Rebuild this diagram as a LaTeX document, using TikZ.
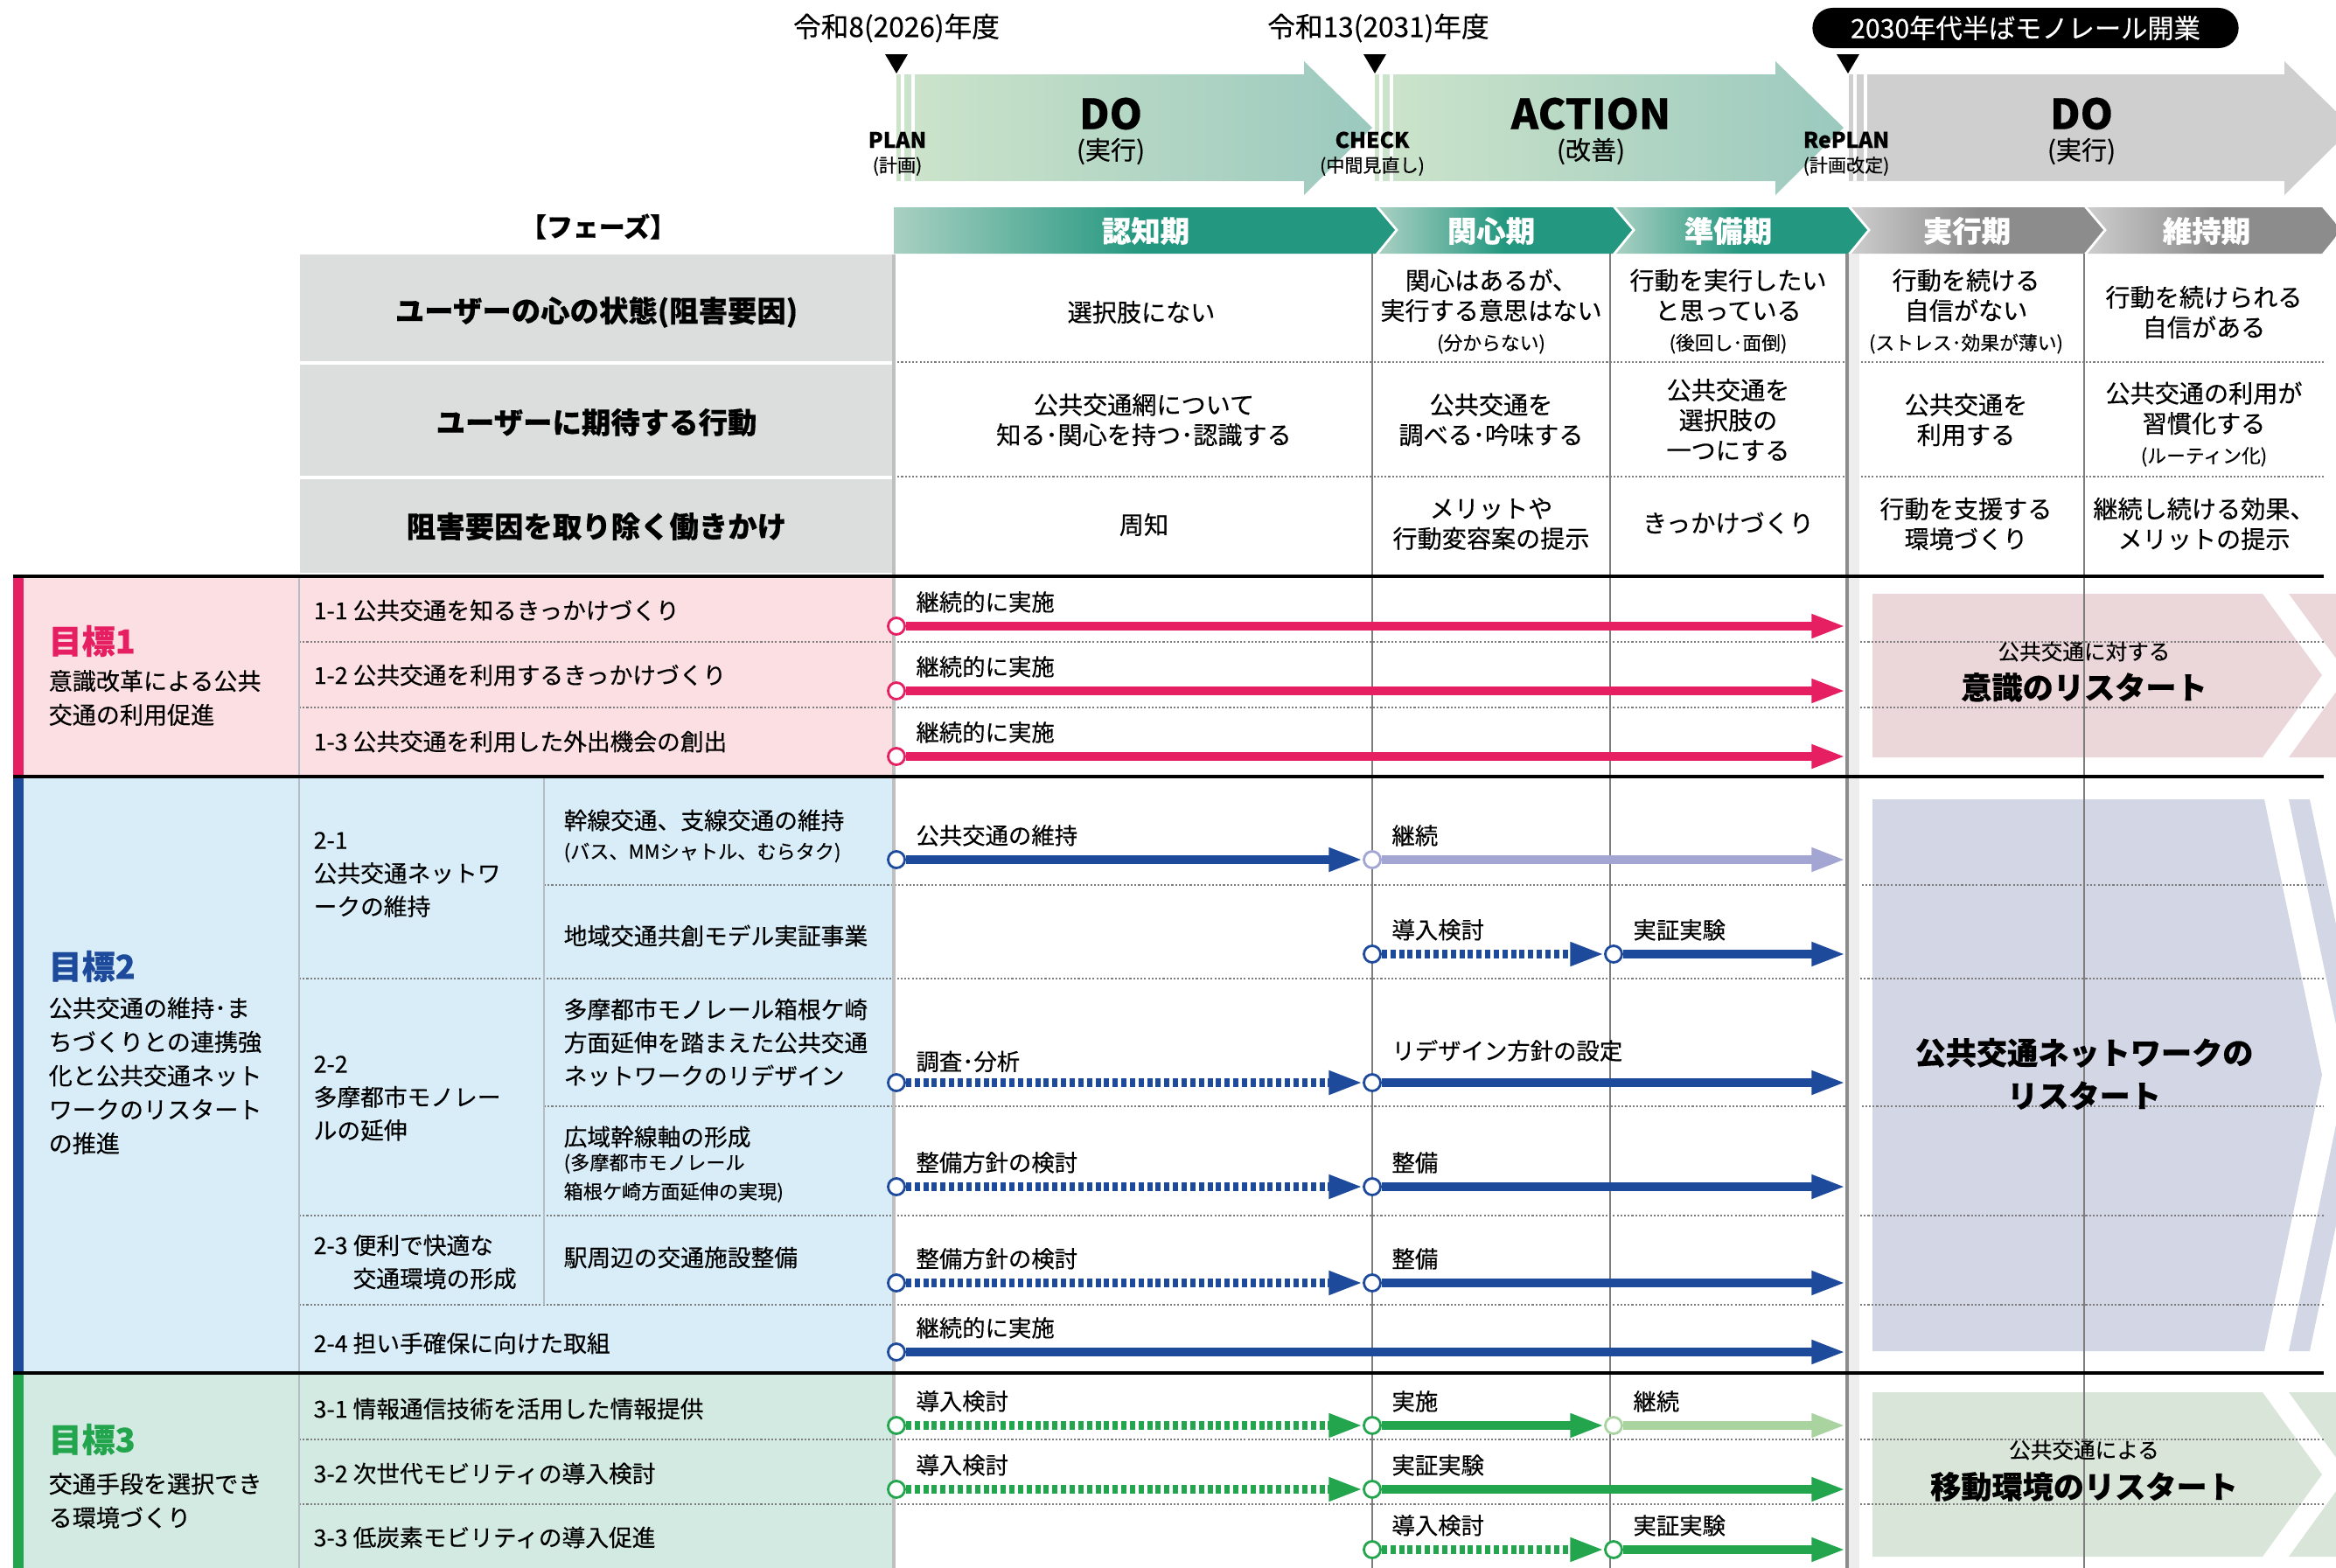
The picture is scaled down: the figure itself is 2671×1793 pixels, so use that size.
\documentclass[tikz,border=0pt]{standalone}
\usepackage{fontspec}
\setmainfont{Noto Sans CJK JP}[FakeBold=0.35]
\usetikzlibrary{arrows.meta, positioning, calc}

\definecolor{goalpink}{HTML}{E61E62}
\definecolor{goalblue}{HTML}{1E4A9C}
\definecolor{goalgreen}{HTML}{23A54E}
\definecolor{bgpink}{HTML}{FBDFE2}
\definecolor{bgblue}{HTML}{D8EDF8}
\definecolor{bggreen}{HTML}{D2EAE2}
\definecolor{boxpink}{HTML}{EBD7DA}
\definecolor{boxblue}{HTML}{D3D6E4}
\definecolor{boxgreen}{HTML}{D9E5D8}
\definecolor{lightpurple}{HTML}{A3A5D3}
\definecolor{lightgreen}{HTML}{A9D4A0}
\definecolor{hdrgray}{HTML}{DCDDDD}
\definecolor{phteal}{HTML}{23977F}
\definecolor{phlight}{HTML}{A9D0C2}
\definecolor{phdark}{HTML}{8C8C8C}
\definecolor{phpale}{HTML}{CDCDCD}
\definecolor{arrmint}{HTML}{CDE4CB}
\definecolor{arrteal}{HTML}{9BC9BE}
\definecolor{arrgray}{HTML}{CFCFCF}
\definecolor{linegray}{HTML}{7D7D7D}
\definecolor{collight}{HTML}{B4BCC4}

\tikzset{
    yearlbl/.style={font=\fontsize{9}{11}\selectfont, inner sep=0pt},
    pdcabig/.style={font=\fontsize{13.5}{14}\selectfont\bfseries, inner sep=0pt},
    pdcasub/.style={font=\fontsize{8.3}{10}\selectfont, inner sep=0pt},
    pdcamini/.style={font=\fontsize{7}{8}\selectfont\bfseries, inner sep=0pt},
    pdcaminisub/.style={font=\fontsize{6}{7}\selectfont, inner sep=0pt},
    phaselbl/.style={font=\fontsize{9.5}{11}\selectfont\bfseries, text=white, inner sep=0pt},
    hdrtxt/.style={font=\fontsize{9.5}{11}\selectfont\bfseries, inner sep=0pt},
    celltxt/.style={font=\fontsize{8}{9.8}\selectfont, align=center, inner sep=0pt},
    goaltitle/.style={font=\fontsize{10.8}{12}\selectfont\bfseries, anchor=west, inner sep=0pt},
    goaldesc/.style={font=\fontsize{7.7}{11}\selectfont, align=left, anchor=west, inner sep=0pt},
    itemtxt/.style={font=\fontsize{7.6}{10.8}\selectfont, align=left, anchor=west, inner sep=0pt},
    itemnote/.style={font=\fontsize{6.3}{9.4}\selectfont, align=left, anchor=west, inner sep=0pt},
    armlbl/.style={font=\fontsize{7.5}{9}\selectfont, inner sep=0pt},
    startpt/.style={circle, fill=white, line width=0.8pt, minimum size=5.4pt, inner sep=0pt},
    track/.style={line width=2.6pt, -{Triangle[length=11pt,width=7.2pt]}},
    dottrack/.style={track, dash pattern=on 1.7pt off 1.1pt},
    sepline/.style={linegray, line width=0.6pt, dash pattern=on 0.6pt off 0.6pt},
    colline/.style={linegray, line width=0.6pt},
    goalline/.style={black, line width=1.3pt},
    boxsmall/.style={font=\fontsize{7}{8}\selectfont, inner sep=0pt},
    boxbig/.style={font=\fontsize{10}{14}\selectfont\bfseries, align=center, inner sep=0pt},
}
\newcommand{\notesz}{\fontsize{6.2}{9.8}\selectfont}

\begin{document}
\begin{tikzpicture}[x=0.01cm, y=-0.01cm]
\useasboundingbox (0,0) rectangle (2671,1793);

% PDCA arrows
\shade[left color=arrmint, right color=arrteal] (1025,85) -- (1491,85) -- (1491,70) -- (1569,146) -- (1491,223) -- (1491,207) -- (1025,207) -- cycle;
\shade[left color=arrmint, right color=arrteal] (1572,85) -- (2030,85) -- (2030,70) -- (2108,146) -- (2030,223) -- (2030,207) -- (1572,207) -- cycle;
\fill[arrgray] (2114,85) -- (2612,85) -- (2612,70) -- (2690,146) -- (2612,223) -- (2612,207) -- (2114,207) -- cycle;
\foreach \x in {1025,1572,2114} {
  \draw[white, line width=1.1pt] (\x+7,85) -- (\x+7,207);
  \draw[white, line width=1.1pt] (\x+19,85) -- (\x+19,207);
}

% Timeline marks
\node[yearlbl] (y26) at (1025,32) {令和8(2026)年度};
\node[yearlbl] (y31) at (1576,32) {令和13(2031)年度};
\node[fill=black, text=white, rounded corners=2.3mm, minimum width=4.87cm, minimum height=0.46cm, inner sep=0pt, font=\fontsize{8.6}{10}\selectfont] (open) at (2316,32) {2030年代半ばモノレール開業};
\fill (1012,62) -- (1038,62) -- (1025,84) -- cycle;
\fill (1559,62) -- (1585,62) -- (1572,84) -- cycle;
\fill (2100,62) -- (2126,62) -- (2113,84) -- cycle;

% PDCA labels
\node[pdcamini] (plan) at (1026,160) {PLAN};
\node[pdcaminisub] (plansub) at (1026,190) {(計画)};
\node[pdcabig] (do1) at (1270,130) {DO};
\node[pdcasub] (do1sub) at (1270,173) {(実行)};
\node[pdcamini] (check) at (1569,160) {CHECK};
\node[pdcaminisub] (checksub) at (1569,190) {(中間見直し)};
\node[pdcabig] (act) at (1819,130) {ACTION};
\node[pdcasub] (actsub) at (1819,173) {(改善)};
\node[pdcamini] (replan) at (2111,160) {RePLAN};
\node[pdcaminisub] (replansub) at (2111,190) {(計画改定)};
\node[pdcabig] (do2) at (2380,130) {DO};
\node[pdcasub] (do2sub) at (2380,173) {(実行)};

% Phase bar
\node[font=\fontsize{8.5}{10}\selectfont\bfseries, inner sep=0pt] (phase) at (684,259) {【フェーズ】};
\shade[left color=phlight, right color=phteal, middle color=phteal] (1022,237) -- (1573,237) -- (1595,263) -- (1573,290) -- (1022,290) -- cycle;
\shade[left color=phlight, right color=phteal, middle color=phteal] (1577,237) -- (1844,237) -- (1866,263) -- (1844,290) -- (1577,290) -- (1599,263) -- cycle;
\shade[left color=phlight, right color=phteal, middle color=phteal] (1848,237) -- (2113,237) -- (2135,263) -- (2113,290) -- (1848,290) -- (1870,263) -- cycle;
\shade[left color=phpale, right color=phdark, middle color=phdark] (2117,237) -- (2383,237) -- (2405,263) -- (2383,290) -- (2117,290) -- (2139,263) -- cycle;
\shade[left color=phpale, right color=phdark, middle color=phdark] (2387,237) -- (2655,237) -- (2677,263) -- (2655,290) -- (2387,290) -- (2409,263) -- cycle;
\node[phaselbl] (ph1) at (1310,264) {認知期};
\node[phaselbl] (ph2) at (1705,264) {関心期};
\node[phaselbl] (ph3) at (1976,264) {準備期};
\node[phaselbl] (ph4) at (2249,264) {実行期};
\node[phaselbl] (ph5) at (2523,264) {維持期};

% Header rows
\fill[hdrgray] (343,291) rectangle (1022,413);
\fill[hdrgray] (343,417) rectangle (1022,544);
\fill[hdrgray] (343,548) rectangle (1022,655);
\node[hdrtxt] (h1) at (682,357) {ユーザーの心の状態(阻害要因)};
\node[hdrtxt] (h2) at (682,483) {ユーザーに期待する行動};
\node[hdrtxt] (h3) at (682,602) {阻害要因を取り除く働きかけ};

% Goal backgrounds
\fill[bgpink] (15,659) rectangle (1022,888);
\fill[bgblue] (15,888) rectangle (1022,1570);
\fill[bggreen] (15,1570) rectangle (1022,1793);
\fill[goalpink] (15,659) rectangle (27,888);
\fill[goalblue] (15,888) rectangle (27,1570);
\fill[goalgreen] (15,1570) rectangle (27,1793);

% Restart boxes
\fill[boxpink] (2141,679) -- (2587,679) -- (2655,772) -- (2587,866) -- (2141,866) -- cycle;
\fill[boxpink] (2617,679) -- (2672,679) -- (2740,772) -- (2672,866) -- (2617,866) -- (2685,772) -- cycle;
\fill[boxblue] (2141,914) -- (2589,914) -- (2655,1229) -- (2589,1545) -- (2141,1545) -- cycle;
\fill[boxblue] (2617,914) -- (2641,914) -- (2707,1229) -- (2641,1545) -- (2617,1545) -- (2683,1229) -- cycle;
\fill[boxgreen] (2141,1592) -- (2587,1592) -- (2655,1686) -- (2587,1780) -- (2141,1780) -- cycle;
\fill[boxgreen] (2617,1592) -- (2672,1592) -- (2740,1686) -- (2672,1780) -- (2617,1780) -- (2685,1686) -- cycle;

% Separators
\draw[sepline] (1022,414) -- (2657,414);
\draw[sepline] (1022,545) -- (2657,545);
\draw[sepline] (342,734) -- (2657,734);
\draw[sepline] (342,809) -- (2657,809);
\draw[sepline] (622,1012) -- (2657,1012);
\draw[sepline] (342,1119) -- (2657,1119);
\draw[sepline] (622,1265) -- (2657,1265);
\draw[sepline] (342,1390) -- (2657,1390);
\draw[sepline] (342,1492) -- (2657,1492);
\draw[sepline] (342,1646) -- (2657,1646);
\draw[sepline] (342,1720) -- (2657,1720);
\draw[collight, line width=0.5pt] (342,659) -- (342,1793);
\draw[collight, line width=0.5pt] (622,888) -- (622,1492);
\draw[black!25, line width=1.2pt] (1022,291) -- (1022,1793);
\fill[black!7] (2112,290) rectangle (2126,1793);
\draw[colline] (1569,290) -- (1569,1793);
\draw[colline] (1841,290) -- (1841,1793);
\draw[colline, line width=1pt, black!45] (2112,290) -- (2112,1793);
\draw[colline] (2383,290) -- (2383,1793);
\draw[goalline] (15,659) -- (2657,659);
\draw[goalline] (15,888) -- (2657,888);
\draw[goalline] (15,1570) -- (2657,1570);

% Header cells
\node[celltxt] (c11) at (1305,357) {選択肢にない};
\node[celltxt] (c12) at (1705,356) {関心はあるが、\\実行する意思はない\\{\notesz (分からない)}};
\node[celltxt] (c13) at (1976,356) {行動を実行したい\\と思っている\\{\notesz (後回し･面倒)}};
\node[celltxt] (c14) at (2248,356) {行動を続ける\\自信がない\\{\notesz (ストレス･効果が薄い)}};
\node[celltxt] (c15) at (2520,357) {行動を続けられる\\自信がある};
\node[celltxt] (c21) at (1308,480) {公共交通網について\\知る･関心を持つ･認識する};
\node[celltxt] (c22) at (1705,480) {公共交通を\\調べる･吟味する};
\node[celltxt] (c23) at (1976,480) {公共交通を\\選択肢の\\一つにする};
\node[celltxt] (c24) at (2248,480) {公共交通を\\利用する};
\node[celltxt] (c25) at (2520,485) {公共交通の利用が\\習慣化する\\{\notesz (ルーティン化)}};
\node[celltxt] (c31) at (1308,600) {周知};
\node[celltxt] (c32) at (1705,599) {メリットや\\行動変容案の提示};
\node[celltxt] (c33) at (1976,598) {きっかけづくり};
\node[celltxt] (c34) at (2248,599) {行動を支援する\\環境づくり};
\node[celltxt] (c35) at (2520,599) {継続し続ける効果、\\メリットの提示};

% Goals
\node[goaltitle, text=goalpink] (g1) at (55,733) {目標1};
\node[goaldesc] (g1d) at (55,798) {意識改革による公共\\交通の利用促進};
\node[goaltitle, text=goalblue] (g2) at (55,1105) {目標2};
\node[goaldesc] (g2d) at (55,1230) {公共交通の維持･ま\\ちづくりとの連携強\\化と公共交通ネット\\ワークのリスタート\\の推進};
\node[goaltitle, text=goalgreen] (g3) at (55,1646) {目標3};
\node[goaldesc] (g3d) at (55,1716) {交通手段を選択でき\\る環境づくり};

% Items
\node[itemtxt] (i11) at (358,698) {1-1 公共交通を知るきっかけづくり};
\node[itemtxt] (i12) at (358,772) {1-2 公共交通を利用するきっかけづくり};
\node[itemtxt] (i13) at (358,848) {1-3 公共交通を利用した外出機会の創出};
\node[itemtxt] (i21) at (358,1000) {2-1\\公共交通ネットワ\\ークの維持};
\node[itemtxt] (i22) at (358,1256) {2-2\\多摩都市モノレー\\ルの延伸};
\node[itemtxt] (i23) at (358,1443) {2-3 便利で快適な\\\phantom{2-3 }交通環境の形成};
\node[itemtxt] (i24) at (358,1536) {2-4 担い手確保に向けた取組};
\node[itemtxt] (i21a) at (644,938) {幹線交通、支線交通の維持};
\node[itemnote] (i21an) at (644,975) {(バス、MMシャトル、むらタク)};
\node[itemtxt] (i21b) at (644,1070) {地域交通共創モデル実証事業};
\node[itemtxt] (i22a) at (644,1192) {多摩都市モノレール箱根ケ崎\\方面延伸を踏まえた公共交通\\ネットワークのリデザイン};
\node[itemtxt] (i22b) at (644,1300) {広域幹線軸の形成};
\node[itemnote] (i22bn) at (644,1347) {(多摩都市モノレール\\箱根ケ崎方面延伸の実現)};
\node[itemtxt] (i23a) at (644,1438) {駅周辺の交通施設整備};
\node[itemtxt] (i31) at (358,1611) {3-1 情報通信技術を活用した情報提供};
\node[itemtxt] (i32) at (358,1685) {3-2 次世代モビリティの導入検討};
\node[itemtxt] (i33) at (358,1758) {3-3 低炭素モビリティの導入促進};

% Goal 1 arrows
\node[startpt, draw=goalpink] (s11) at (1025,716) {};
\node[startpt, draw=goalpink] (s12) at (1025,790) {};
\node[startpt, draw=goalpink] (s13) at (1025,865) {};
\coordinate (e11) at (2110,716);
\coordinate (e12) at (2110,790);
\coordinate (e13) at (2110,865);
\draw[track, goalpink] (s11) -- (e11);
\draw[track, goalpink] (s12) -- (e12);
\draw[track, goalpink] (s13) -- (e13);
\node[armlbl, above right=2pt and 4pt of s11] (l11) {継続的に実施};
\node[armlbl, above right=2pt and 4pt of s12] (l12) {継続的に実施};
\node[armlbl, above right=2pt and 4pt of s13] (l13) {継続的に実施};

% Goal 2 arrows
\node[startpt, draw=goalblue] (s21a) at (1025,983) {};
\node[startpt, draw=lightpurple] (s21b) at (1569,983) {};
\coordinate (e21) at (2110,983);
\draw[track, goalblue] (s21a) -- (s21b);
\draw[track, lightpurple] (s21b) -- (e21);
\node[armlbl, above right=2pt and 4pt of s21a] (l21a) {公共交通の維持};
\node[armlbl, above right=2pt and 4pt of s21b] (l21b) {継続};

\node[startpt, draw=goalblue] (s22a) at (1569,1091) {};
\node[startpt, draw=goalblue] (s22b) at (1845,1091) {};
\coordinate (e22) at (2110,1091);
\draw[dottrack, goalblue] (s22a) -- (s22b);
\draw[track, goalblue] (s22b) -- (e22);
\node[armlbl, above right=2pt and 4pt of s22a] (l22a) {導入検討};
\node[armlbl, above right=2pt and 4pt of s22b] (l22b) {実証実験};

\node[startpt, draw=goalblue] (s23a) at (1025,1238) {};
\node[startpt, draw=goalblue] (s23b) at (1569,1238) {};
\coordinate (e23) at (2110,1238);
\draw[dottrack, goalblue] (s23a) -- (s23b);
\draw[track, goalblue] (s23b) -- (e23);
\node[armlbl, above right=1pt and 4pt of s23a] (l23a) {調査･分析};
\node[armlbl, above right=4.5pt and 4pt of s23b] (l23b) {リデザイン方針の設定};

\node[startpt, draw=goalblue] (s24a) at (1025,1357) {};
\node[startpt, draw=goalblue] (s24b) at (1569,1357) {};
\coordinate (e24) at (2110,1357);
\draw[dottrack, goalblue] (s24a) -- (s24b);
\draw[track, goalblue] (s24b) -- (e24);
\node[armlbl, above right=2pt and 4pt of s24a] (l24a) {整備方針の検討};
\node[armlbl, above right=2pt and 4pt of s24b] (l24b) {整備};

\node[startpt, draw=goalblue] (s25a) at (1025,1467) {};
\node[startpt, draw=goalblue] (s25b) at (1569,1467) {};
\coordinate (e25) at (2110,1467);
\draw[dottrack, goalblue] (s25a) -- (s25b);
\draw[track, goalblue] (s25b) -- (e25);
\node[armlbl, above right=2pt and 4pt of s25a] (l25a) {整備方針の検討};
\node[armlbl, above right=2pt and 4pt of s25b] (l25b) {整備};

\node[startpt, draw=goalblue] (s26) at (1025,1546) {};
\coordinate (e26) at (2110,1546);
\draw[track, goalblue] (s26) -- (e26);
\node[armlbl, above right=2pt and 4pt of s26] (l26) {継続的に実施};

% Goal 3 arrows
\node[startpt, draw=goalgreen] (s31a) at (1025,1630) {};
\node[startpt, draw=goalgreen] (s31b) at (1569,1630) {};
\node[startpt, draw=lightgreen] (s31c) at (1845,1630) {};
\coordinate (e31) at (2110,1630);
\draw[dottrack, goalgreen] (s31a) -- (s31b);
\draw[track, goalgreen] (s31b) -- (s31c);
\draw[track, lightgreen] (s31c) -- (e31);
\node[armlbl, above right=2pt and 4pt of s31a] (l31a) {導入検討};
\node[armlbl, above right=2pt and 4pt of s31b] (l31b) {実施};
\node[armlbl, above right=2pt and 4pt of s31c] (l31c) {継続};

\node[startpt, draw=goalgreen] (s32a) at (1025,1703) {};
\node[startpt, draw=goalgreen] (s32b) at (1569,1703) {};
\coordinate (e32) at (2110,1703);
\draw[dottrack, goalgreen] (s32a) -- (s32b);
\draw[track, goalgreen] (s32b) -- (e32);
\node[armlbl, above right=2pt and 4pt of s32a] (l32a) {導入検討};
\node[armlbl, above right=2pt and 4pt of s32b] (l32b) {実証実験};

\node[startpt, draw=goalgreen] (s33a) at (1569,1772) {};
\node[startpt, draw=goalgreen] (s33b) at (1845,1772) {};
\coordinate (e33) at (2110,1772);
\draw[dottrack, goalgreen] (s33a) -- (s33b);
\draw[track, goalgreen] (s33b) -- (e33);
\node[armlbl, above right=2pt and 4pt of s33a] (l33a) {導入検討};
\node[armlbl, above right=2pt and 4pt of s33b] (l33b) {実証実験};

% Restart texts
\node[boxsmall] (r1s) at (2383,745) {公共交通に対する};
\node[boxbig] (r1) at (2383,786) {意識のリスタート};
\node[boxbig] (r2) at (2383,1228) {公共交通ネットワークの\\リスタート};
\node[boxsmall] (r3s) at (2383,1658) {公共交通による};
\node[boxbig] (r3) at (2383,1700) {移動環境のリスタート};
\end{tikzpicture}
\end{document}
